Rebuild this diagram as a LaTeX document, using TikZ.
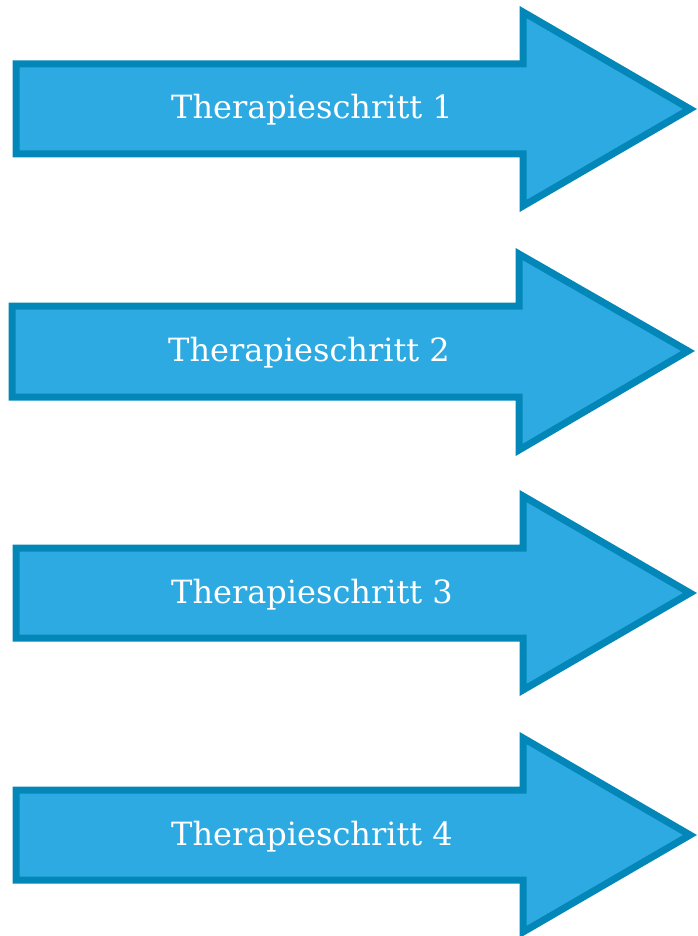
\documentclass[tikz,border=0pt]{standalone}
\usepackage{fontspec}
\setmainfont{DejaVu Serif}
\definecolor{arrfill}{RGB}{46,170,226}
\definecolor{arrline}{RGB}{2,135,184}
\tikzset{
  arrowshape/.style={fill=arrfill, draw=arrline, line width=7pt, miter limit=10},
  arrowlabel/.style={text=white, font=\fontsize{32}{38}\selectfont, inner sep=0pt, anchor=base}
}
\newcommand\therarrow[8]{%
  % #1 L, #2 T, #3 B, #4 H, #5 HT, #6 HB, #7 X, #8 M
  \draw[arrowshape] (#1,-#2) -- (#4,-#2) -- (#4,-#5) -- (#7,-#8) -- (#4,-#6) -- (#4,-#3) -- (#1,-#3) -- cycle;
}
\begin{document}
\begin{tikzpicture}[x=1pt,y=1pt]
\useasboundingbox (0,0) rectangle (697,-936);
\therarrow{16}{64}{154}{523}{12}{206}{690}{109}
\node[arrowlabel] (t1) at (312,-119) {Therapieschritt 1};
\therarrow{12}{306}{397}{519}{254}{450}{688}{351}
\node[arrowlabel] (t2) at (309,-361) {Therapieschritt 2};
\therarrow{16}{548}{638}{523}{496}{690}{690}{593}
\node[arrowlabel] (t3) at (312,-603) {Therapieschritt 3};
\therarrow{16}{790}{880}{523}{738}{932}{690}{835}
\node[arrowlabel] (t4) at (312,-845) {Therapieschritt 4};
\end{tikzpicture}
\end{document}
